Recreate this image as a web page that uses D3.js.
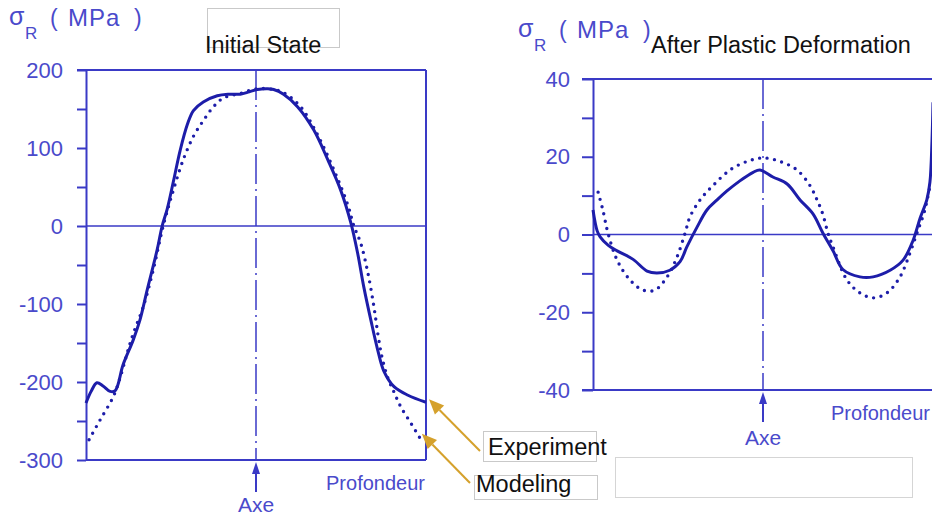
<!DOCTYPE html>
<html><head><meta charset="utf-8">
<script src="https://cdn.jsdelivr.net/npm/d3@7"></script>
<style>body{margin:0;background:#fff}svg{display:block}</style>
</head><body>
<svg id="c" width="932" height="518"></svg>
<script>
// ---- data ----
const titles = ["Initial State", "After Plastic Deformation"];
const legendLabels = ["Experiment", "Modeling"];
const axisWords = ["Axe", "Profondeur"];

const initialTicks = [-300,-250,-200,-150,-100,-50,0,50,100,150,200];
const initialLabels = [-300,-200,-100,0,100,200];
const initialExperiment = [[0,-227],[1.5,-212],[3.2,-201],[5,-205],[7.1,-212],[8.6,-211],[10.9,-178],[13.9,-146],[15.9,-120],[18,-82],[20.9,-31],[22.4,0],[23.9,22],[25.7,57],[27.7,97],[29.8,130],[31.6,148],[34.5,159],[38.6,167],[42,169],[45.4,169],[48,172],[50.4,175],[53.4,176],[55.2,175],[58.1,169],[62.2,153],[67,123],[71.1,85],[74.9,46],[77.9,4],[79.9,-35],[81.7,-78],[83.8,-121],[85.8,-159],[87.6,-186],[90.6,-206],[94.7,-217],[100,-226]];
const initialModeling = [[0.9,-274],[4.1,-249],[8,-219],[10,-195],[12.1,-163],[13.9,-138],[16.8,-104],[19.8,-56],[22.7,0],[25.7,46],[28.6,85],[31.6,115],[34.5,135],[37.5,153],[40.4,164],[45.4,170],[50.4,176],[55,175],[58.1,171],[63.1,153],[68.1,117],[72.9,72],[77,27],[78.8,0],[80.8,-22],[82.9,-60],[84.7,-104],[85.9,-140],[87.1,-169],[88.8,-195],[90.6,-213],[92.6,-232],[95.6,-253],[98.5,-274]];

const plasticTicks = [-40,-30,-20,-10,0,10,20,30,40];
const plasticLabels = [-40,-20,0,20,40];
const plasticExperiment = [[0,6.3],[1.2,1],[2.1,-0.6],[4.5,-2.8],[7.1,-4.2],[11.8,-6.4],[15.9,-9.4],[18.8,-9.9],[22.6,-9.2],[25.6,-7],[27.6,-3.2],[30.6,1.9],[33.5,6.3],[36.5,8.9],[39.4,11.2],[43.2,13.8],[47.1,16],[49.1,16.6],[52.9,14.8],[57.1,13],[60.9,8.9],[64.7,5.3],[67.6,0.4],[70.6,-4.2],[73.5,-9],[78.5,-10.9],[82.4,-10.9],[87.4,-9.2],[91.2,-6.6],[94.1,-1.6],[96.2,4.2],[98.2,9],[99.1,13.5],[99.7,24],[100,34]];
const plasticModeling = [[1.5,10.9],[2.9,6.3],[4.4,0.4],[7.1,-6.6],[10.9,-11.7],[14.7,-14.3],[18.2,-14.3],[21.8,-10.9],[24.7,-5.8],[27.1,0.4],[28.5,4.5],[31.5,8.9],[35.3,12.6],[40.3,16.6],[45.3,18.8],[50,19.7],[55,18.8],[60,16.6],[63.8,12.6],[65.9,8.9],[67.6,5.2],[69.1,0.4],[70.6,-3.2],[74.7,-11.7],[78.5,-15],[82.4,-16.3],[86.5,-15],[90.3,-10.9],[93.2,-4.8],[95.3,0.4],[97.5,6],[99,12]];

// ---- styles ----
const AXIS = "#3a3ac6";
const TXT = "#4a4acb";
const CURVE = "#1d1da9";
const GOLD = "#d5a12c";
const FONT = "'Liberation Sans', Arial, sans-serif";

const svg = d3.select("#c");

function panel(cfg) {
  const g = svg.append("g");
  const x = d3.scaleLinear().domain([0, 100]).range([cfg.x0, cfg.x1]);
  const y = d3.scaleLinear().domain(cfg.domain).range([cfg.bottom, cfg.top]);

  const top = y(cfg.domain[1]), bot = y(cfg.domain[0]);
  g.append("line").attr("x1", cfg.x0 - cfg.tick).attr("x2", cfg.x1).attr("y1", top).attr("y2", top)
    .attr("stroke", AXIS).attr("stroke-width", 2);
  g.append("line").attr("x1", cfg.x0 - (cfg.bottomExt ? cfg.tick : 0)).attr("x2", cfg.x1).attr("y1", bot).attr("y2", bot)
    .attr("stroke", AXIS).attr("stroke-width", 2);
  g.append("line").attr("x1", cfg.x1).attr("x2", cfg.x1).attr("y1", top).attr("y2", bot)
    .attr("stroke", AXIS).attr("stroke-width", 2);
  g.append("line").attr("x1", cfg.x0).attr("x2", cfg.x1).attr("y1", y(0)).attr("y2", y(0))
    .attr("stroke", AXIS).attr("stroke-width", 1.6);

  const ax = d3.axisLeft(y).tickValues(cfg.ticks).tickSize(cfg.tick).tickSizeOuter(0)
    .tickPadding(cfg.pad).tickFormat(d => cfg.labels.includes(d) ? String(d) : "");
  const ag = g.append("g").attr("transform", `translate(${cfg.x0},0)`).call(ax);
  ag.selectAll("path.domain").attr("stroke", AXIS).attr("stroke-width", 2);
  ag.selectAll(".tick line").attr("stroke", AXIS).attr("stroke-width", 2);
  ag.selectAll(".tick text").attr("fill", TXT).style("font-family", FONT).style("font-size", "22px");

  g.append("line").attr("x1", x(50)).attr("x2", x(50)).attr("y1", top).attr("y2", bot)
    .attr("stroke", AXIS).attr("stroke-width", 1.5).attr("stroke-dasharray", "30 5 2 5");

  const cx = x(50);
  g.append("line").attr("x1", cx).attr("x2", cx).attr("y1", bot + 32).attr("y2", bot + 12)
    .attr("stroke", AXIS).attr("stroke-width", 2);
  g.append("path").attr("d", `M${cx},${bot + 2} L${cx - 4},${bot + 14} L${cx + 4},${bot + 14} Z`).attr("fill", AXIS);
  g.append("text").attr("x", cx).attr("y", bot + cfg.axeDy).attr("text-anchor", "middle")
    .attr("fill", TXT).style("font-family", FONT).style("font-size", "21px").text(axisWords[0]);
  g.append("text").attr("x", cfg.profX).attr("y", bot + 30).attr("text-anchor", "end")
    .attr("fill", TXT).style("font-family", FONT).style("font-size", "20px").text(axisWords[1]);

  // y label  sigma_R ( MPa )
  const lx = cfg.labX, ly = cfg.labY;
  g.append("text").attr("x", lx).attr("y", ly).attr("fill", TXT).style("font-family", FONT).style("font-size", "25px").text("σ");
  g.append("text").attr("x", lx + 16).attr("y", ly + 14).attr("fill", TXT).style("font-family", FONT).style("font-size", "17px").text("R");
  g.append("text").attr("x", lx + 41).attr("y", ly + 1).attr("fill", TXT).style("font-family", FONT).style("font-size", "23px").text("(");
  g.append("text").attr("x", lx + 59).attr("y", ly + 1).attr("fill", TXT).style("font-family", FONT).style("font-size", "24px")
    .attr("letter-spacing", 1).text("MPa");
  g.append("text").attr("x", lx + 125).attr("y", ly + 1).attr("fill", TXT).style("font-family", FONT).style("font-size", "23px").text(")");

  const line = d3.line().x(d => x(d[0])).y(d => y(d[1])).curve(d3.curveCatmullRom.alpha(0.5));
  g.append("path").datum(cfg.model).attr("d", line).attr("fill", "none").attr("stroke", CURVE)
    .attr("stroke-width", 3.4).attr("stroke-linecap", "round").attr("stroke-dasharray", "0 7.5");
  g.append("path").datum(cfg.exp).attr("d", line).attr("fill", "none").attr("stroke", CURVE)
    .attr("stroke-width", 3).attr("stroke-linejoin", "round");

  g.append("text").attr("x", cfg.titleX).attr("y", 53).attr("fill", "#111")
    .style("font-family", FONT).style("font-size", "23.5px").text(cfg.title);
  return {x, y};
}

svg.append("rect").attr("x", 207.5).attr("y", 8.5).attr("width", 132).attr("height", 39)
  .attr("fill", "none").attr("stroke", "#c9c9c9").attr("stroke-width", 1);

const p1 = panel({x0: 86, x1: 426, top: 70, bottom: 460, domain: [-300, 200], ticks: initialTicks, labels: initialLabels,
  tick: 9, pad: 14, bottomExt: false, profX: 425, labX: 9, labY: 25, titleX: 205, title: titles[0], axeDy: 52,
  exp: initialExperiment, model: initialModeling});
const p2 = panel({x0: 593, x1: 933, top: 79, bottom: 390, domain: [-40, 40], ticks: plasticTicks, labels: plasticLabels,
  tick: 11, pad: 12, bottomExt: true, profX: 930, labX: 518, labY: 37, titleX: 651, title: titles[1], axeDy: 55,
  exp: plasticExperiment, model: plasticModeling});

svg.append("rect").attr("x", 483.5).attr("y", 431.5).attr("width", 113).attr("height", 30)
  .attr("fill", "none").attr("stroke", "#c9c9c9");
svg.append("rect").attr("x", 474.5).attr("y", 475.5).attr("width", 123).attr("height", 24)
  .attr("fill", "none").attr("stroke", "#c9c9c9");
svg.append("rect").attr("x", 615.5).attr("y", 457.5).attr("width", 297).attr("height", 40)
  .attr("fill", "none").attr("stroke", "#d5d5d5");

function arrow(x1, y1, x2, y2) {
  const a = Math.atan2(y2 - y1, x2 - x1), L = 15, W = 6.5;
  const bx = x2 - L * Math.cos(a), by = y2 - L * Math.sin(a);
  svg.append("line").attr("x1", x1).attr("y1", y1).attr("x2", bx).attr("y2", by)
    .attr("stroke", GOLD).attr("stroke-width", 2);
  svg.append("path").attr("d", `M${x2},${y2} L${bx + W * Math.sin(a)},${by - W * Math.cos(a)} L${bx - W * Math.sin(a)},${by + W * Math.cos(a)} Z`)
    .attr("fill", GOLD);
}
const lastExp = initialExperiment[initialExperiment.length - 1];
const lastMod = initialModeling[initialModeling.length - 1];
arrow(480, 451, p1.x(lastExp[0]) + 3, p1.y(lastExp[1]) - 3);
arrow(470, 483, p1.x(lastMod[0]) + 1, p1.y(lastMod[1]) - 6);

svg.append("text").attr("x", 488).attr("y", 455).attr("fill", "#111").style("font-family", FONT)
  .style("font-size", "23.5px").text(legendLabels[0]);
svg.append("text").attr("x", 476).attr("y", 492).attr("fill", "#111").style("font-family", FONT)
  .style("font-size", "23.5px").text(legendLabels[1]);
</script>
</body></html>
